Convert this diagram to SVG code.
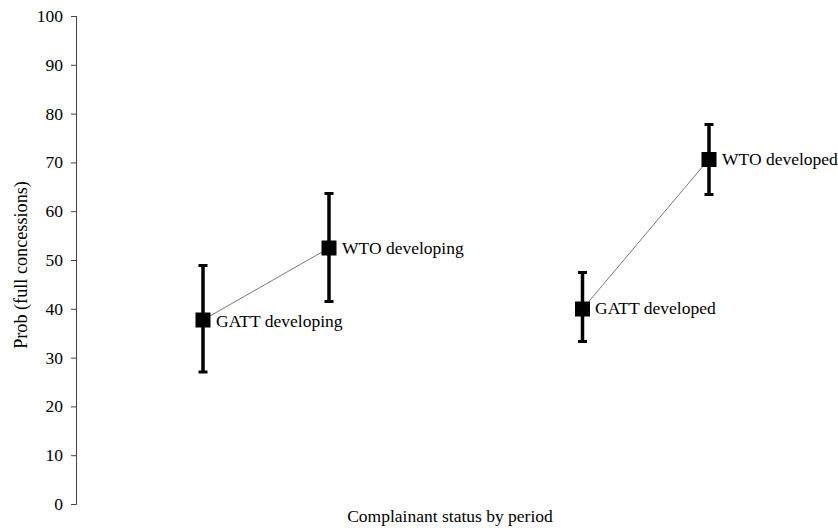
<svg xmlns="http://www.w3.org/2000/svg" width="838" height="528" viewBox="0 0 838 528">
<style>
text{font-family:"Liberation Serif","Times New Roman",serif;font-size:17.5px;fill:#000}
.tick{text-anchor:end}
.axis{stroke:#444;stroke-width:1;fill:none}
.bar{stroke:#000;stroke-width:3.5;fill:none}
.cap{stroke:#000;stroke-width:3;fill:none}
.conn{stroke:#555;stroke-width:0.8;fill:none}
</style>
<rect width="838" height="528" fill="#fff"/>
<g id="axis">
<path class="axis" d="M76.5 16V504.5M71 16.5H76.5M71 65.3H76.5M71 114.1H76.5M71 162.9H76.5M71 211.7H76.5M71 260.5H76.5M71 309.3H76.5M71 358.1H76.5M71 406.9H76.5M71 455.7H76.5M71 504.5H76.5"/>
<text class="tick" x="63" y="22">100</text>
<text class="tick" x="63" y="71">90</text>
<text class="tick" x="63" y="120">80</text>
<text class="tick" x="63" y="168">70</text>
<text class="tick" x="63" y="217">60</text>
<text class="tick" x="63" y="266">50</text>
<text class="tick" x="63" y="315">40</text>
<text class="tick" x="63" y="364">30</text>
<text class="tick" x="63" y="412">20</text>
<text class="tick" x="63" y="461">10</text>
<text class="tick" x="63" y="510">0</text>
<text transform="translate(27,265) rotate(-90)" text-anchor="middle" style="font-size:18.2px">Prob (full concessions)</text>
<text x="450" y="522" text-anchor="middle">Complainant status by period</text>
</g>
<g id="connectors">
<line class="conn" x1="203" y1="320" x2="329" y2="248"/>
<line class="conn" x1="582.5" y1="309" x2="709" y2="159"/>
</g>
<g id="gatt-developing">
<path class="bar" d="M203 265V372"/>
<path class="cap" d="M198.5 265.5H207.5M198.5 372H207.5"/>
<rect x="195.5" y="312.5" width="15" height="15"/>
<text x="216" y="327">GATT developing</text>
</g>
<g id="wto-developing">
<path class="bar" d="M329 193V302"/>
<path class="cap" d="M324.5 193.5H333.5M324.5 301.5H333.5"/>
<rect x="321.5" y="240.5" width="15" height="15"/>
<text x="342" y="254">WTO developing</text>
</g>
<g id="gatt-developed">
<path class="bar" d="M582.5 272V342"/>
<path class="cap" d="M578 272.5H587M578 341.5H587"/>
<rect x="575" y="301.5" width="15" height="15"/>
<text x="595" y="314">GATT developed</text>
</g>
<g id="wto-developed">
<path class="bar" d="M709 124V195"/>
<path class="cap" d="M704.5 124.5H713.5M704.5 194.5H713.5"/>
<rect x="701.5" y="152" width="15" height="15"/>
<text x="722" y="165">WTO developed</text>
</g>
</svg>
